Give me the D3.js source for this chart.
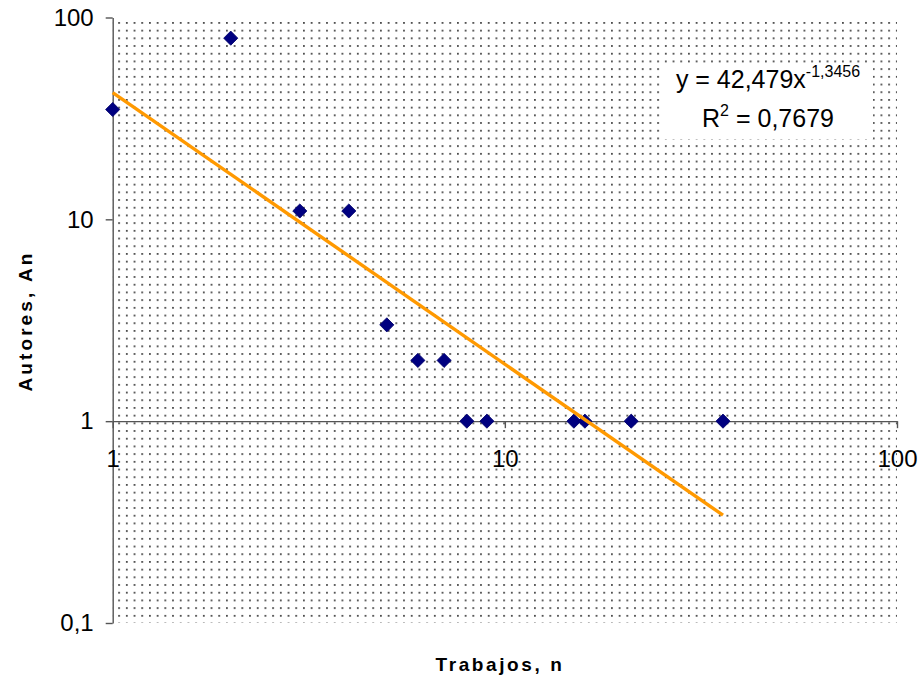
<!DOCTYPE html>
<html>
<head>
<meta charset="utf-8">
<script src="https://cdn.jsdelivr.net/npm/d3@7"></script>
<style>
  body { margin: 0; background: #fff; }
  text { font-family: "Liberation Sans", Arial, sans-serif; fill: #000; }
</style>
</head>
<body>
<svg id="chart" width="922" height="682"></svg>
<script>
// Productivity of authors: number of works (n) vs number of authors (An)
const trabajos = [1, 2, 3, 4, 5, 6, 7, 8, 9, 15, 16, 21, 36];
const autores  = [35, 79, 11, 11, 3, 2, 2, 1, 1, 1, 1, 1, 1];

const xTicks = [1, 10, 100];
const yTicks = [0.1, 1, 10, 100];

// Power trendline y = a * x^b
const fitA = 42.479;
const fitB = -1.3456;
const fitR2 = 0.7679;

const xTitle = "Trabajos, n";
const yTitle = "Autores, An";

const locale = d3.formatLocale({ decimal: ",", thousands: ".", grouping: [3], currency: ["", ""] });
const fmtTick = v => locale.format(",~g")(v);

const svg = d3.select("#chart");

const plot = { left: 112.7, right: 897, top: 17.5, bottom: 623 };

const x = d3.scaleLog().domain([1, 100]).range([plot.left, plot.right]);
const y = d3.scaleLog().domain([0.1, 100]).range([plot.bottom, plot.top]);

// dotted plot-area fill
const defs = svg.append("defs");
const pat = defs.append("pattern")
  .attr("id", "dots")
  .attr("patternUnits", "userSpaceOnUse")
  .attr("x", plot.left + 5.5).attr("y", plot.top + 4.5)
  .attr("width", 7.7).attr("height", 7.7);
pat.append("rect").attr("width", 7.7).attr("height", 7.7).attr("fill", "#fff");
pat.append("circle").attr("cx", 0.9).attr("cy", 0.9).attr("r", 0.95).attr("fill", "#333");

svg.append("rect")
  .attr("x", plot.left).attr("y", plot.top)
  .attr("width", plot.right - plot.left).attr("height", plot.bottom - plot.top)
  .attr("fill", "url(#dots)");

// axes
const yAxis = d3.axisLeft(y).tickValues(yTicks).tickFormat(fmtTick)
  .tickSize(7).tickSizeOuter(0).tickPadding(12);
const gy = svg.append("g").attr("transform", `translate(${plot.left},0)`).call(yAxis);

const xAxis = d3.axisBottom(x).tickValues(xTicks).tickFormat(fmtTick)
  .tickSize(7).tickSizeOuter(0).tickPadding(22);
const gx = svg.append("g").attr("transform", `translate(0,${y(1)})`).call(xAxis);

[gx, gy].forEach(g => {
  g.selectAll("path.domain").attr("stroke", "#555").attr("stroke-width", 1.4);
  g.selectAll(".tick line").attr("stroke", "#555").attr("stroke-width", 1.4);
  g.selectAll(".tick text").attr("font-size", 24)
    .style("font-family", '"Liberation Sans", Arial, sans-serif').attr("fill", "#000");
});

// data points (diamonds)
const pts = trabajos.map((t, i) => ({ n: t, a: autores[i] }));
svg.append("g").selectAll("path")
  .data(pts).join("path")
  .attr("d", d3.symbol(d3.symbolSquare, 100)())
  .attr("transform", d => `translate(${x(d.n)},${y(d.a)}) rotate(45)`)
  .attr("fill", "#000080")
  .attr("stroke", "#00006a").attr("stroke-width", 0.8);

// power trendline across the data range
const fitX = d3.extent(trabajos);
const line = d3.line().x(d => x(d)).y(d => y(fitA * Math.pow(d, fitB)));
svg.append("path")
  .datum(fitX)
  .attr("d", line)
  .attr("fill", "none")
  .attr("stroke", "#ff9900")
  .attr("stroke-width", 3.4)
  .attr("stroke-linecap", "butt");

// equation label
const eq = svg.append("g");
eq.append("rect").attr("x", 663).attr("y", 63).attr("width", 210).attr("height", 76).attr("fill", "#fff");
const t1 = eq.append("text").attr("x", 768).attr("y", 88).attr("text-anchor", "middle").attr("font-size", 25);
t1.append("tspan").text(`y = ${locale.format(",.3f")(fitA)}x`);
t1.append("tspan").attr("dy", -11).attr("font-size", 16).text(locale.format(",.4f")(fitB).replace("−", "-"));
const t2 = eq.append("text").attr("x", 768).attr("y", 127).attr("text-anchor", "middle").attr("font-size", 25);
t2.append("tspan").text("R");
t2.append("tspan").attr("dy", -11).attr("font-size", 16).text("2");
t2.append("tspan").attr("dy", 11).text(` = ${locale.format(",.4f")(fitR2)}`);

// axis titles
svg.append("text")
  .attr("x", 500).attr("y", 671)
  .attr("text-anchor", "middle")
  .attr("font-size", 19).attr("font-weight", "bold")
  .attr("letter-spacing", 2.6)
  .text(xTitle);

svg.append("text")
  .attr("transform", `translate(32,321) rotate(-90)`)
  .attr("text-anchor", "middle")
  .attr("font-size", 19).attr("font-weight", "bold")
  .attr("letter-spacing", 3.1)
  .text(yTitle);
</script>
</body>
</html>
